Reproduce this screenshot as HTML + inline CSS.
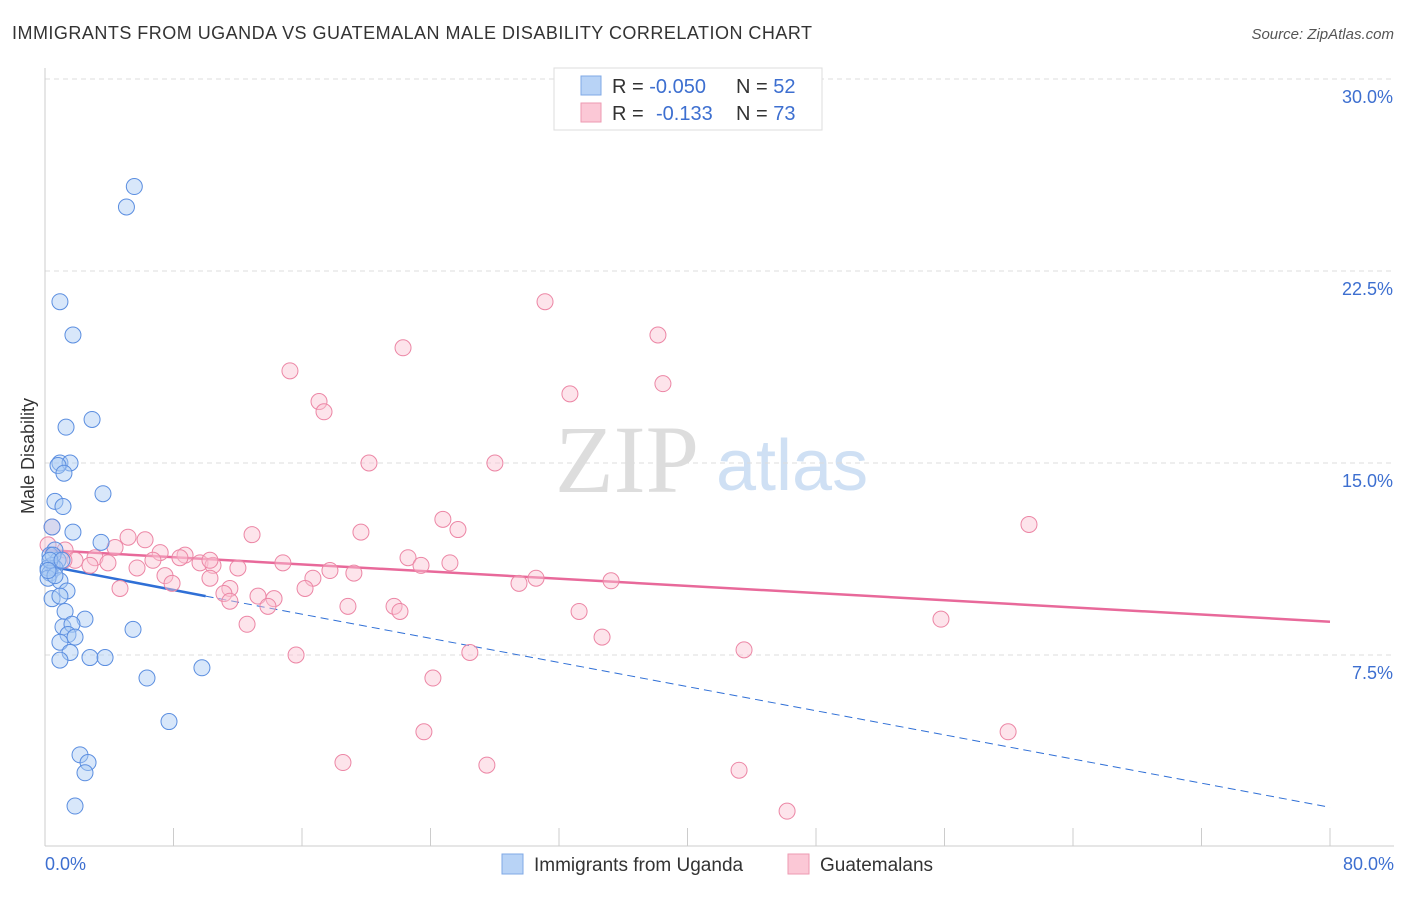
<!DOCTYPE html>
<html><head><meta charset="utf-8"><style>
body{margin:0;background:#fff;font-family:"Liberation Sans",sans-serif;}
</style></head><body>
<svg id="chart" width="1406" height="892" xmlns="http://www.w3.org/2000/svg" font-family="Liberation Sans, sans-serif">
<text x="12" y="39" font-size="18" fill="#333" textLength="800">IMMIGRANTS FROM UGANDA VS GUATEMALAN MALE DISABILITY CORRELATION CHART</text>
<text x="1394" y="39" font-size="15" fill="#555" text-anchor="end" font-style="italic">Source: ZipAtlas.com</text>
<text x="555" y="492" font-size="96" fill="#ddd" font-family="Liberation Serif, serif">ZIP</text>
<text x="716" y="490" font-size="72" fill="#cfe0f4">atlas</text>
<g id="grid"></g>
<g id="axes"></g>
<g id="lines"></g>
<g id="pts"></g>
<text x="34" y="456" font-size="18" fill="#333" transform="rotate(-90 34 456)" text-anchor="middle">Male Disability</text>
<text x="45" y="870" font-size="18" fill="#3d6fd0">0.0%</text>
<text x="1394" y="870" font-size="18" fill="#3d6fd0" text-anchor="end">80.0%</text>
<g>
<rect x="554" y="68" width="268" height="62" fill="#fff" stroke="#ddd"/>
<rect x="581" y="76" width="20" height="19" fill="#b8d3f6" stroke="#7fa8e6"/>
<rect x="581" y="103" width="20" height="19" fill="#fbc8d6" stroke="#ee9ab2"/>
<text x="612" y="93" font-size="20" fill="#333">R = <tspan fill="#3d6fd0">-0.050</tspan><tspan x="736">N = </tspan><tspan fill="#3d6fd0">52</tspan></text>
<text x="612" y="120" font-size="20" fill="#333">R = <tspan x="656" fill="#3d6fd0">-0.133</tspan><tspan x="736">N = </tspan><tspan fill="#3d6fd0">73</tspan></text>
</g>
<g>
<rect x="502" y="854" width="21" height="20" fill="#b8d3f6" stroke="#7fa8e6"/>
<text x="534" y="871" font-size="19" fill="#333">Immigrants from Uganda</text>
<rect x="788" y="854" width="21" height="20" fill="#fbc8d6" stroke="#ee9ab2"/>
<text x="820" y="871" font-size="19" fill="#333">Guatemalans</text>
</g>
</svg>
<script>
const yTicks=[7.5,15,22.5,30];
const xTicks=[0,8,16,24,32,40,48,56,64,72,80];
const blueX=[5.56,5.07,0.93,1.74,2.93,1.31,0.93,1.56,0.81,1.18,3.61,0.62,1.12,0.44,1.74,0.62,3.49,0.31,0.81,0.44,0.19,0.62,0.31,0.93,0.19,1.37,0.44,0.93,1.25,2.49,1.12,1.68,5.48,1.43,1.87,0.93,1.56,2.80,3.74,0.93,9.77,6.35,7.72,2.18,2.68,2.49,1.87,0.50,0.62,0.31,1.06,0.19];
const blueY=[25.8,25.0,21.3,20.0,16.7,16.4,15.0,15.0,14.9,14.6,13.8,13.5,13.3,12.5,12.3,11.6,11.9,11.4,11.2,11.0,10.9,10.9,10.7,10.4,10.5,10.0,9.7,9.8,9.2,8.9,8.6,8.7,8.5,8.3,8.2,8.0,7.6,7.4,7.4,7.3,7.0,6.6,4.9,3.6,3.3,2.9,1.6,11.4,10.6,11.2,11.2,10.8];
const pinkX=[31.13,38.16,22.29,15.25,38.47,32.68,17.06,17.37,20.17,28.01,24.77,25.71,61.26,19.67,12.89,5.17,6.23,0.44,0.19,1.25,4.36,7.17,8.72,3.11,1.87,3.92,6.72,9.65,10.46,12.01,14.81,22.60,23.41,25.21,17.74,19.23,5.73,7.47,10.27,16.68,30.57,29.51,35.24,7.91,4.67,11.51,16.19,11.14,13.26,14.26,13.88,18.86,21.73,22.10,33.25,12.58,34.68,55.78,26.45,43.52,15.63,24.15,23.59,59.96,18.55,27.51,43.21,46.20,1.18,2.80,8.40,11.51,10.27];
const pinkY=[21.3,20.0,19.5,18.6,18.1,17.7,17.4,17.0,15.0,15.0,12.8,12.4,12.6,12.3,12.2,12.1,12.0,12.5,11.8,11.6,11.7,11.5,11.4,11.3,11.2,11.1,11.2,11.1,11.0,10.9,11.1,11.3,11.0,11.1,10.8,10.7,10.9,10.6,10.5,10.5,10.5,10.3,10.4,10.3,10.1,10.1,10.1,9.9,9.8,9.7,9.4,9.4,9.4,9.2,9.2,8.7,8.2,8.9,7.6,7.7,7.5,6.6,4.5,4.5,3.3,3.2,3.0,1.4,11.2,11.0,11.3,9.6,11.2];
const X=v=>45+v/80*1285, Y=v=>847-v*25.6;
const NS="http://www.w3.org/2000/svg";
function mk(t,a,p){const e=document.createElementNS(NS,t);for(const k in a)e.setAttribute(k,a[k]);p.appendChild(e);return e;}
const g=document.getElementById('grid'),ax=document.getElementById('axes'),ln=document.getElementById('lines'),pt=document.getElementById('pts');
yTicks.forEach(v=>{
 const l=mk('line',{x1:45,x2:1394,y1:Y(v),y2:Y(v),stroke:'#ddd','stroke-dasharray':'5,4'},g);
 
 
 const t=mk('text',{x:1393,y:Y(v)+24,'font-size':18,fill:'#3d6fd0','text-anchor':'end'},g);t.textContent=v.toFixed(1)+'%';
 
 
});
const ya=mk('line',{x1:45,x2:45,y1:68,y2:846,stroke:'#ccc'},ax);


const xa=mk('line',{x1:45,x2:1394,y1:846,y2:846,stroke:'#ccc'},ax);


xTicks.forEach(v=>{const t=mk('line',{x1:X(v),x2:X(v),y1:828,y2:846,stroke:'#ccc'},ax);
 
 });
function dots(xs,ys,fill,stroke,name){xs.forEach((x,i)=>{const c=mk('circle',{cx:X(x),cy:Y(ys[i]),r:8,fill:fill,'fill-opacity':0.45,stroke:stroke,'stroke-width':1},pt);
 
 });}
dots(pinkX,pinkY,'#fbc3d3','#ec86a5','guatemalan-point');
dots(blueX,blueY,'#a9c9f3','#5b8ee0','uganda-point');
const pl=mk('line',{x1:X(0),y1:Y(11.6),x2:X(80),y2:Y(8.8),stroke:'#e8699a','stroke-width':2.5},ln);


const bl=mk('line',{x1:X(0),y1:Y(11.0),x2:X(10),y2:Y(9.8),stroke:'#2f6fd6','stroke-width':2.5},ln);


const bd=mk('line',{x1:X(10),y1:Y(9.8),x2:X(80),y2:Y(1.55),stroke:'#2f6fd6','stroke-width':1,'stroke-dasharray':'8,5'},ln);


</script>
</body></html>
